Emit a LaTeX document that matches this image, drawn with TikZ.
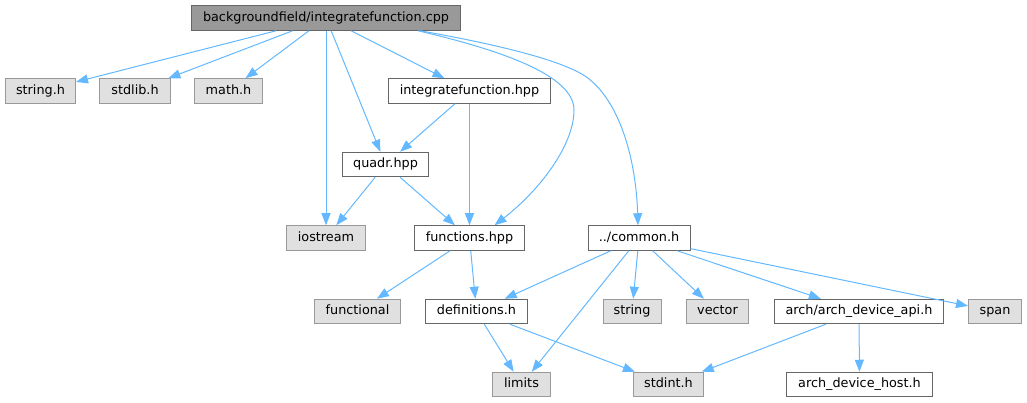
\documentclass[tikz,border=0pt]{standalone}
\usepackage{fontspec}
\setmainfont{DejaVu Sans}
\usepackage{tikz}
\usetikzlibrary{arrows.meta}
\definecolor{edgeblue}{HTML}{63B8FF}
\definecolor{sysfill}{HTML}{E0E0E0}
\definecolor{sysdraw}{HTML}{999999}
\definecolor{filedraw}{HTML}{666666}
\definecolor{rootfill}{HTML}{999999}
\tikzset{%
  incedge/.style={-{Triangle[length=12pt,width=9pt]}, draw=edgeblue, line width=1pt},
  basenode/.style={rectangle, minimum height=24.5pt, inner sep=0pt, line width=1pt,
    text height=9.4pt, text depth=2.9pt, font=\fontsize{12.8}{15}\selectfont},
  filenode/.style={basenode, draw=filedraw, fill=white},
  sysnode/.style={basenode, draw=sysdraw, fill=sysfill},
  rootnode/.style={basenode, draw=filedraw, fill=rootfill}
}

\begin{document}
\begin{tikzpicture}[x=1pt, y=-1pt]
  \useasboundingbox (0,0) rectangle (1027,403);

  \node[rootnode, minimum width=269] (root) at (326,18) {backgroundfield/integratefunction.cpp};
  \node[sysnode, minimum width=70] (stringh) at (40.5,91) {string.h};
  \node[sysnode, minimum width=71] (stdlibh) at (135,91) {stdlib.h};
  \node[sysnode, minimum width=68] (mathh) at (228.5,91) {math.h};
  \node[filenode, minimum width=162] (intfunc) at (469.5,91) {integratefunction.hpp};
  \node[filenode, minimum width=86] (quadr) at (385.5,164.5) {quadr.hpp};
  \node[sysnode, minimum width=79] (iostream) at (326,238) {iostream};
  \node[filenode, minimum width=110] (functions) at (469.5,238) {functions.hpp};
  \node[filenode, minimum width=102] (common) at (639,238) {../common.h};
  \node[sysnode, minimum width=86] (functional) at (357.5,311.5) {functional};
  \node[filenode, minimum width=102] (definitions) at (476.5,311.5) {definitions.h};
  \node[sysnode, minimum width=58] (stdstring) at (632,311.5) {string};
  \node[sysnode, minimum width=62] (stdvector) at (717.5,311.5) {vector};
  \node[filenode, minimum width=169] (archapi) at (859,311.5) {arch/arch\_device\_api.h};
  \node[sysnode, minimum width=53] (stdspan) at (995,311.5) {span};
  \node[sysnode, minimum width=58] (limits) at (521.5,384.5) {limits};
  \node[sysnode, minimum width=70] (stdint) at (668.5,384.5) {stdint.h};
  \node[filenode, minimum width=146] (archhost) at (859.5,384.5) {arch\_device\_host.h};

  \draw [incedge] (root) -- (stringh);
  \draw [incedge] (root) -- (stdlibh);
  \draw [incedge] (root) -- (mathh);
  \draw [incedge] (root) -- (iostream);
  \draw [incedge] (root) -- (quadr);
  \draw [incedge] (root) -- (intfunc);
  \draw [incedge] ([xshift=92pt]root.south) .. controls (500,50) and (574,75) .. (574,110)
    .. controls (574,145) and (540,190) .. ([xshift=25pt]functions.north);
  \draw [incedge] ([xshift=94pt]root.south) .. controls (500,45) and (560,60) .. (585,76)
    .. controls (620,100) and (636,160) .. ([xshift=-1pt]common.north);
  \draw [incedge] (intfunc) -- (quadr);
  \draw [incedge] (intfunc) -- (functions);
  \draw [incedge] (quadr) -- (iostream);
  \draw [incedge] (quadr) -- (functions);
  \draw [incedge] (functions) -- (functional);
  \draw [incedge] (functions) -- (definitions);
  \draw [incedge] (common) -- (definitions);
  \draw [incedge] (common) -- (limits);
  \draw [incedge] (common) -- (stdstring);
  \draw [incedge] (common) -- (stdvector);
  \draw [incedge] (common) -- (archapi);
  \draw [incedge] (common) -- (stdspan);
  \draw [incedge] (definitions) -- (limits);
  \draw [incedge] (definitions) -- (stdint);
  \draw [incedge] (archapi) -- (stdint);
  \draw [incedge] (archapi) -- (archhost);
\end{tikzpicture}
\end{document}
